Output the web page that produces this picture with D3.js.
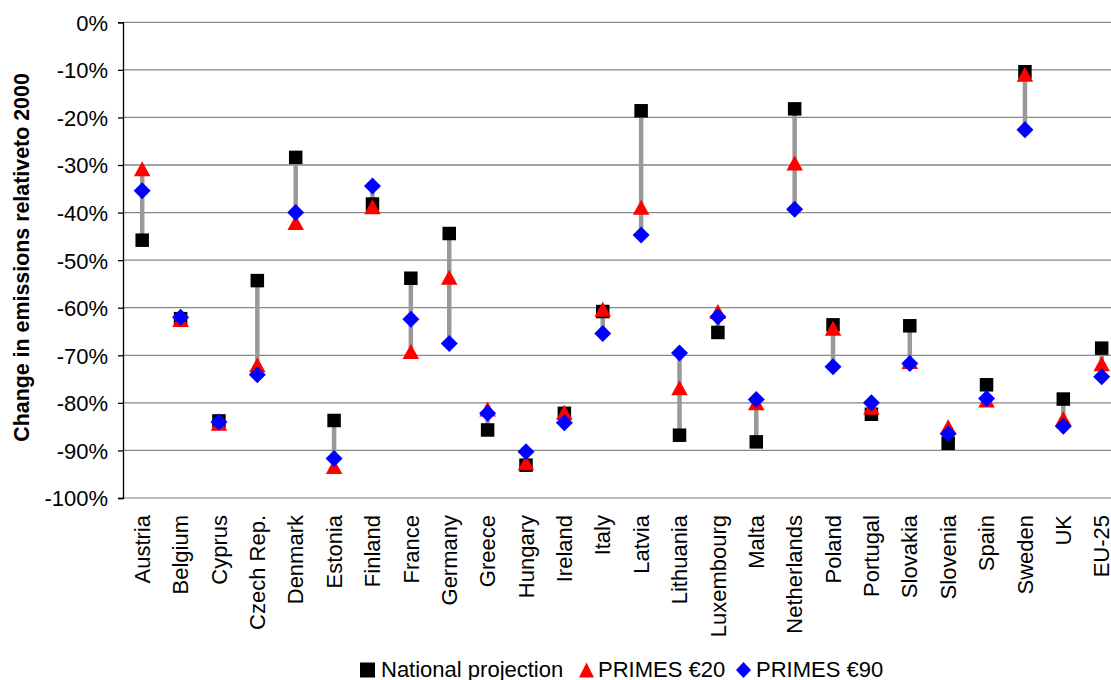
<!DOCTYPE html>
<html>
<head>
<meta charset="utf-8">
<script src="https://cdn.jsdelivr.net/npm/d3@7"></script>
<style>
  html, body { margin: 0; padding: 0; background: #fff; }
  svg { display: block; }
  text { font-family: "Liberation Sans", Arial, sans-serif; fill: #000; }
</style>
</head>
<body>
<svg id="chart" width="1111" height="680"></svg>
<script>
const categories = ["Austria","Belgium","Cyprus","Czech Rep.","Denmark","Estonia","Finland","France","Germany","Greece","Hungary","Ireland","Italy","Latvia","Lithuania","Luxembourg","Malta","Netherlands","Poland","Portugal","Slovakia","Slovenia","Spain","Sweden","UK","EU-25"];
const nationalProjection = [-45.8,-62.3,-83.8,-54.3,-28.4,-83.7,-38.2,-53.8,-44.4,-85.7,-93.1,-82.2,-60.8,-18.6,-86.8,-65.2,-88.2,-18.2,-63.6,-82.4,-63.8,-88.5,-76.2,-10.4,-79.2,-68.5];
const primes20 = [-30.8,-62.5,-84.3,-72.0,-42.1,-93.4,-38.8,-69.2,-53.6,-81.3,-92.6,-82.0,-60.3,-38.9,-76.8,-60.8,-80.0,-29.6,-64.3,-80.9,-71.3,-85.0,-79.4,-10.9,-83.3,-71.8];
const primes90 = [-35.4,-62.0,-84.0,-74.1,-40.0,-91.7,-34.4,-62.4,-67.5,-82.2,-90.3,-84.2,-65.4,-44.7,-69.5,-61.9,-79.3,-39.3,-72.4,-80.0,-71.7,-86.5,-79.1,-22.6,-84.9,-74.5];
const yTicks = [0,-10,-20,-30,-40,-50,-60,-70,-80,-90,-100];
const seriesNames = ["National projection","PRIMES €20","PRIMES €90"];
const yTitle = "Change in emissions relativeto 2000";

(function () {
const svg = d3.select("#chart");
const plotLeft = 123, plotTop = 22.3, plotBottom = 498;
const fs = 22;
const x = d3.scaleBand().domain(categories).range([plotLeft, plotLeft + 26 * 38.38]);
const y = d3.scaleLinear().domain([-100, 0]).range([plotBottom, plotTop]);
const cx = c => x(c) + x.bandwidth() / 2;

// gridlines
svg.append("g").selectAll("line").data(yTicks).join("line")
  .attr("x1", plotLeft).attr("x2", 1111)
  .attr("y1", d => y(d)).attr("y2", d => y(d))
  .attr("stroke", d => d === -100 ? "#a6a6a6" : "#868686")
  .attr("stroke-width", 1.3);

// y axis
const yAxis = d3.axisLeft(y).tickValues(yTicks).tickSize(5).tickPadding(10)
  .tickFormat(d => d + "%");
const ya = svg.append("g").attr("transform", `translate(${plotLeft},0)`).call(yAxis);
ya.select(".domain").attr("stroke", "#000").attr("stroke-width", 1.3);
ya.selectAll(".tick line").attr("stroke", "#000").attr("stroke-width", 1.3);
ya.selectAll(".tick text").attr("font-size", fs).attr("font-family", "Liberation Sans, Arial, sans-serif").attr("fill", "#000").attr("dy", "0.36em");

// y title
svg.append("text")
  .attr("transform", "translate(28.5,257.5) rotate(-90)")
  .attr("text-anchor", "middle")
  .attr("font-size", 21.4).attr("font-weight", "bold")
  .text(yTitle);

// x labels
svg.append("g").selectAll("text").data(categories).join("text")
  .attr("transform", d => `translate(${cx(d)},515) rotate(-90)`)
  .attr("text-anchor", "end").attr("dy", "0.35em")
  .attr("font-size", fs)
  .text(d => d);

// high-low lines
const rows = categories.map((c, i) => ({c, n: nationalProjection[i], a: primes20[i], b: primes90[i]}));
svg.append("g").selectAll("line").data(rows).join("line")
  .attr("x1", d => cx(d.c)).attr("x2", d => cx(d.c))
  .attr("y1", d => y(Math.max(d.n, d.a, d.b))).attr("y2", d => y(Math.min(d.n, d.a, d.b)))
  .attr("stroke", "#999999").attr("stroke-width", 4.5);

const sq = 13.5, triW = 16.5, triH = 15, dia = 8.5;
const squarePath = `M${-sq/2},${-sq/2}h${sq}v${sq}h${-sq}Z`;
const triPath = `M0,${-triH/2}L${triW/2},${triH/2}L${-triW/2},${triH/2}Z`;
const diaPath = `M0,${-dia}L${dia},0L0,${dia}L${-dia},0Z`;

svg.append("g").selectAll("path").data(rows).join("path")
  .attr("transform", d => `translate(${cx(d.c)},${y(d.n)})`)
  .attr("d", squarePath).attr("fill", "#000");
svg.append("g").selectAll("path").data(rows).join("path")
  .attr("transform", d => `translate(${cx(d.c)},${y(d.a)})`)
  .attr("d", triPath).attr("fill", "#ff0000");
svg.append("g").selectAll("path").data(rows).join("path")
  .attr("transform", d => `translate(${cx(d.c)},${y(d.b)})`)
  .attr("d", diaPath).attr("fill", "#0000ff");

// legend
const legend = [
  {name: seriesNames[0], mx: 367.5, tx: 381, path: `M-7.5,-7.5h15v15h-15Z`, fill: "#000"},
  {name: seriesNames[1], mx: 586.5, tx: 598, path: `M0,-7.5L7.5,7.5L-7.5,7.5Z`, fill: "#ff0000"},
  {name: seriesNames[2], mx: 743.5, tx: 756, path: `M0,-8L7.5,0L0,8L-7.5,0Z`, fill: "#0000ff"}
];
const lg = svg.append("g");
lg.selectAll("path").data(legend).join("path")
  .attr("transform", d => `translate(${d.mx},670)`)
  .attr("d", d => d.path).attr("fill", d => d.fill);
lg.selectAll("text").data(legend).join("text")
  .attr("x", d => d.tx).attr("y", 676.5)
  .attr("font-size", fs)
  .text(d => d.name);
})();
</script>
</body>
</html>
